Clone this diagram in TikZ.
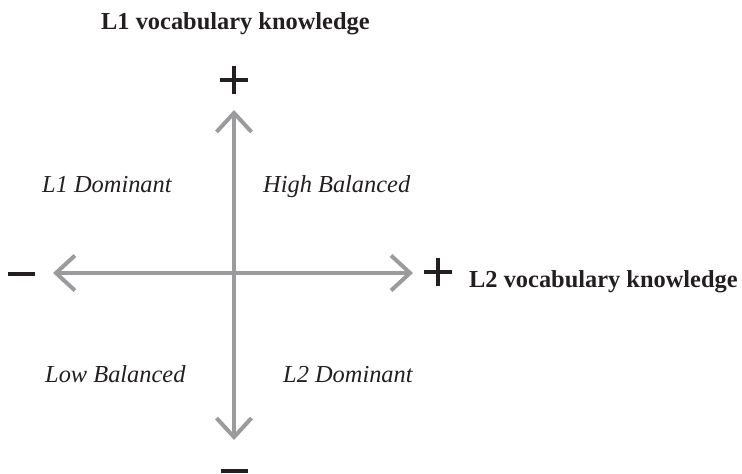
\documentclass[tikz,border=0pt]{standalone}
\usepackage{fontspec}
\setmainfont{Liberation Serif}
\usetikzlibrary{arrows.meta}
\definecolor{axisgray}{RGB}{155,155,158}
\definecolor{ink}{RGB}{35,31,32}
\begin{document}
\begin{tikzpicture}[x=1pt,y=-1pt,
  axisline/.style={draw=axisgray, line width=4pt,
    {Straight Barb[length=19pt,width=35pt]}-{Straight Barb[length=19pt,width=35pt]}},
  plussign/.style={draw=ink, line width=3.2pt},
  minussign/.style={draw=ink, line width=4pt},
  ttl/.style={font=\fontsize{24.4}{29}\selectfont\bfseries, text=ink, anchor=base west, inner sep=0pt},
  quad/.style={font=\fontsize{24.4}{29}\selectfont\itshape, text=ink, anchor=base west, inner sep=0pt}]
\useasboundingbox (0,0) rectangle (742,474);
% axis ends
\coordinate (top) at (234,110);
\coordinate (bottom) at (234,440);
\coordinate (left) at (53,273);
\coordinate (right) at (413,273);
\draw[axisline] (bottom) -- (top);
\draw[axisline] (left) -- (right);
% signs
\coordinate (ptop) at (234,80);
\coordinate (pright) at (438,272);
\coordinate (mleft) at (21.5,274);
\coordinate (mbottom) at (234,470.5);
\draw[plussign] ([xshift=-14pt]ptop) -- ([xshift=14pt]ptop)
                ([yshift=-14pt]ptop) -- ([yshift=14pt]ptop);
\draw[plussign] ([xshift=-14pt]pright) -- ([xshift=14pt]pright)
                ([yshift=-14pt]pright) -- ([yshift=14pt]pright);
\draw[minussign] ([xshift=-13.5pt]mleft) -- ([xshift=13.5pt]mleft);
\draw[minussign] ([xshift=-13.5pt]mbottom) -- ([xshift=13.5pt]mbottom);
% titles
\node[ttl] (l1title) at (101,29) {L1 vocabulary knowledge};
\node[ttl] (l2title) at (469,287) {L2 vocabulary knowledge};
% quadrants
\node[quad] (l1dom) at (42,192) {L1 Dominant};
\node[quad] (highbal) at (263,192) {High Balanced};
\node[quad] (lowbal) at (45,382) {Low Balanced};
\node[quad] (l2dom) at (283,382) {L2 Dominant};
\end{tikzpicture}
\end{document}
